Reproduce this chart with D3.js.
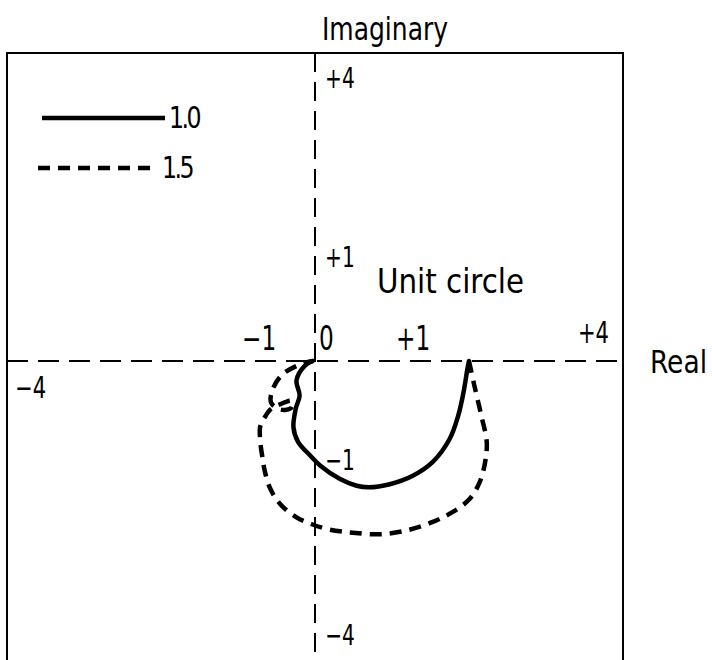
<!DOCTYPE html>
<html>
<head>
<meta charset="utf-8">
<script src="https://cdn.jsdelivr.net/npm/d3@7"></script>
<style>
  html, body { margin: 0; padding: 0; background: #fff; }
  svg { display: block; }
  text { font-family: "DejaVu Sans Condensed", "DejaVu Sans", sans-serif; fill: #000; }
</style>
</head>
<body>
<svg id="chart" width="712" height="660"></svg>
<script>
// Loci in the complex plane, [real, imaginary]
const locusGain10 = [
  [-0.03, 0.00], [-0.13, -0.06], [-0.24, -0.25], [-0.20, -0.45], [-0.25, -0.62],
  [-0.28, -0.86], [-0.22, -1.05], [-0.06, -1.23], [0.07, -1.36], [0.32, -1.53],
  [0.54, -1.62], [0.70, -1.64], [0.97, -1.60], [1.27, -1.49], [1.53, -1.31],
  [1.75, -1.01], [1.86, -0.71], [1.93, -0.40], [1.98, -0.10], [2.00, 0.00]
];
const locusGain15 = [
  [2.00, 0.00], [2.07, -0.32], [2.16, -0.71], [2.23, -1.05], [2.21, -1.31],
  [2.14, -1.57], [2.01, -1.79], [1.79, -1.96], [1.53, -2.09], [1.19, -2.20],
  [0.84, -2.25], [0.49, -2.23], [0.19, -2.19], [-0.04, -2.12], [-0.24, -2.03],
  [-0.45, -1.86], [-0.58, -1.66], [-0.65, -1.44], [-0.68, -1.27], [-0.71, -1.05],
  [-0.71, -0.84], [-0.64, -0.71], [-0.58, -0.63], [-0.45, -0.56], [-0.30, -0.52],
  [-0.31, -0.61], [-0.45, -0.63], [-0.57, -0.54], [-0.55, -0.37], [-0.43, -0.18],
  [-0.23, -0.06], [-0.08, -0.01], [-0.02, 0.00]
];
const gainLabels = ["1.0", "1.5"];

const realTicks = [-4, -1, 0, 1, 4];
const realTickText = ["\u22124", "\u22121", "0", "+1", "+4"];
const imagTicks = [4, 1, -1, -4];
const imagTickText = ["+4", "+1", "\u22121", "\u22124"];

const svg = d3.select("#chart");

const x = d3.scaleLinear().domain([-4, 4]).range([7, 623]);
const y = d3.scaleLinear().domain([-4, 4]).range([669, 53]);

// Narrow lettering: squeeze each label to a fraction of its natural width
function narrow(sel, k) {
  sel.each(function () {
    const w = this.getComputedTextLength();
    d3.select(this).attr("textLength", w * k).attr("lengthAdjust", "spacingAndGlyphs");
  });
  return sel;
}

// Frame
svg.append("rect")
  .attr("x", x(-4)).attr("y", y(4))
  .attr("width", x(4) - x(-4)).attr("height", y(-4) - y(4))
  .attr("fill", "none").attr("stroke", "#000").attr("stroke-width", 2);

// Dashed real and imaginary axes
svg.append("line")
  .attr("x1", x(-4)).attr("x2", x(4)).attr("y1", y(0)).attr("y2", y(0))
  .attr("stroke", "#000").attr("stroke-width", 2).attr("stroke-dasharray", "21 10");
svg.append("line")
  .attr("x1", x(0)).attr("x2", x(0)).attr("y1", y(4)).attr("y2", y(-4))
  .attr("stroke", "#000").attr("stroke-width", 2).attr("stroke-dasharray", "19 10");

// Real-axis labels
realTicks.forEach((v, i) => {
  let tx = x(v) + 4, ty = y(0) - 11, anchor = "start", size = 33;
  if (v === 4) { tx = x(v) - 14; ty = y(0) - 18; anchor = "end"; size = 30; }
  if (v === -4) { tx = x(v) + 8; ty = y(0) + 37; size = 30; }
  narrow(svg.append("text").attr("x", tx).attr("y", ty)
    .attr("text-anchor", anchor).attr("font-size", size)
    .text(realTickText[i]), 0.78);
});

// Imaginary-axis labels
imagTicks.forEach((v, i) => {
  let ty;
  if (v === 4) ty = y(v) + 35;
  else if (v === 1) ty = y(v) - 17;
  else if (v === -1) ty = y(v) + 32;
  else ty = y(v) - 24;
  narrow(svg.append("text").attr("x", x(0) + 10).attr("y", ty)
    .attr("font-size", 28).text(imagTickText[i]), 0.8);
});

// Axis titles
svg.append("text").attr("x", 385).attr("y", 40).attr("text-anchor", "middle")
  .attr("font-size", 32).attr("textLength", 126).attr("lengthAdjust", "spacingAndGlyphs")
  .text("Imaginary");
svg.append("text").attr("x", 650).attr("y", y(0) + 12)
  .attr("font-size", 32).attr("textLength", 57).attr("lengthAdjust", "spacingAndGlyphs")
  .text("Real");
svg.append("text").attr("x", 377).attr("y", 293)
  .attr("font-size", 33).attr("textLength", 147).attr("lengthAdjust", "spacingAndGlyphs")
  .text("Unit circle");

// Loci
const line = d3.line().x(d => x(d[0])).y(d => y(d[1])).curve(d3.curveCatmullRom.alpha(0.5));

svg.append("path").datum(locusGain10).attr("d", line)
  .attr("fill", "none").attr("stroke", "#000").attr("stroke-width", 4.5)
  .attr("stroke-linejoin", "round").attr("stroke-linecap", "round");
svg.append("path").datum(locusGain15).attr("d", line)
  .attr("fill", "none").attr("stroke", "#000").attr("stroke-width", 4.5)
  .attr("stroke-dasharray", "12 8");

// Legend
const legend = [
  { y: 118, dash: null, x1: 42, x2: 165 },
  { y: 168, dash: "12 8", x1: 38, x2: 158 }
];
legend.forEach((d, i) => {
  svg.append("line").attr("x1", d.x1).attr("x2", d.x2).attr("y1", d.y).attr("y2", d.y)
    .attr("stroke", "#000").attr("stroke-width", 4.5)
    .attr("stroke-dasharray", d.dash);
  narrow(svg.append("text").attr("x", d.x2 + 4).attr("y", d.y + 10)
    .attr("font-size", 31).attr("letter-spacing", -3).text(gainLabels[i]), 0.85);
});
</script>
</body>
</html>
